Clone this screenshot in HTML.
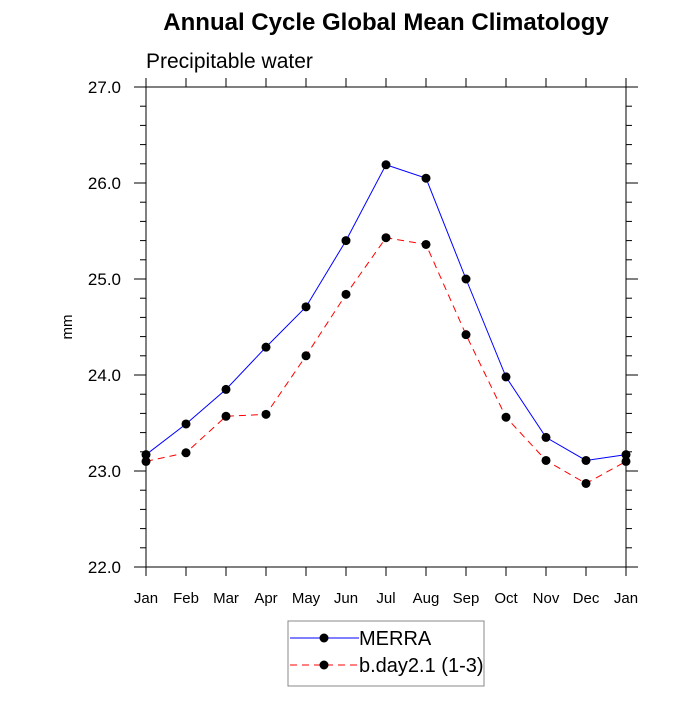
<!DOCTYPE html>
<html><head><meta charset="utf-8"><style>body{margin:0;background:#fff}svg{font-family:"Liberation Sans",sans-serif}</style></head>
<body>
<svg id="c" width="700" height="700">
<text x="386" y="30" text-anchor="middle" font-size="24" font-weight="bold">Annual Cycle Global Mean Climatology</text>
<text x="146" y="68" font-size="21">Precipitable water</text>
<text transform="translate(72,327) rotate(-90)" text-anchor="middle" font-size="15">mm</text>
<g id="axes"></g><g id="series"></g>
<g>
<rect x="288" y="621" width="196" height="65" fill="#fff" stroke="#888" stroke-width="1"/>
<line x1="290" y1="638" x2="359" y2="638" stroke="#00f"/><circle cx="324" cy="638" r="4.5" fill="#000"/>
<text x="359" y="645" font-size="20">MERRA</text>
<line x1="290" y1="665" x2="359" y2="665" stroke="#f00" stroke-dasharray="7,5"/><circle cx="324" cy="665" r="4.5" fill="#000"/>
<text x="359" y="672" font-size="20">b.day2.1 (1-3)</text>
</g>
</svg>
<script>
const months=["Jan","Feb","Mar","Apr","May","Jun","Jul","Aug","Sep","Oct","Nov","Dec","Jan"];
const merra=[23.17,23.49,23.85,24.29,24.71,25.40,26.19,26.05,25.00,23.98,23.35,23.11,23.17];
const model=[23.10,23.19,23.57,23.59,24.20,24.84,25.43,25.36,24.42,23.56,23.11,22.87,23.10];
const yTicks=["22.0","23.0","24.0","25.0","26.0","27.0"];
const NS="http://www.w3.org/2000/svg";
const L=146,R=626,T=87,B=567;
const x=i=>L+i*40, y=v=>B-(v-22)/5*(B-T);
const ax=document.getElementById('axes'), sg=document.getElementById('series');
function mk(p,t,a){const e=document.createElementNS(NS,t);for(const k in a)e.setAttribute(k,a[k]);p.appendChild(e);return e;}
const fr=mk(ax,'rect',{x:L,y:T,width:R-L,height:B-T,fill:'none',stroke:'#000','stroke-width':1});


mk(ax,'line',{x1:L-12,y1:T,x2:R+12,y2:T,stroke:'#000'});
mk(ax,'line',{x1:L-12,y1:B,x2:R+12,y2:B,stroke:'#000'});
months.forEach((m,i)=>{
 mk(ax,'line',{x1:x(i),y1:B,x2:x(i),y2:B+9,stroke:'#000'});
 mk(ax,'line',{x1:x(i),y1:T,x2:x(i),y2:T-9,stroke:'#000'});
 const t=mk(ax,'text',{x:x(i),y:B+36,'text-anchor':'middle','font-size':15});t.textContent=m;
 
 
});
yTicks.forEach(s=>{const v=parseFloat(s);
 mk(ax,'line',{x1:L-12,y1:y(v),x2:L,y2:y(v),stroke:'#000'});
 mk(ax,'line',{x1:R,y1:y(v),x2:R+12,y2:y(v),stroke:'#000'});
 const t=mk(ax,'text',{x:L-25,y:y(v)+6,'text-anchor':'end','font-size':17});t.textContent=s;
 
 
});
for(let v=22.2;v<27;v+=0.2){if(Math.abs(v-Math.round(v))<0.01)continue;
 mk(ax,'line',{x1:L-6,y1:y(v),x2:L,y2:y(v),stroke:'#000'});
 mk(ax,'line',{x1:R,y1:y(v),x2:R+6,y2:y(v),stroke:'#000'});}
function draw(d,col,dash,name){
 const p=mk(sg,'polyline',{points:d.map((v,i)=>x(i)+','+y(v)).join(' '),fill:'none',stroke:col,'stroke-dasharray':dash});
 
 
 d.forEach((v,i)=>{const c=mk(sg,'circle',{cx:x(i),cy:y(v),r:4.5,fill:'#000'});
 
 });
}
draw(merra,'#00f','none','merra');
draw(model,'#f00','7,5','model');
</script>
</body></html>
